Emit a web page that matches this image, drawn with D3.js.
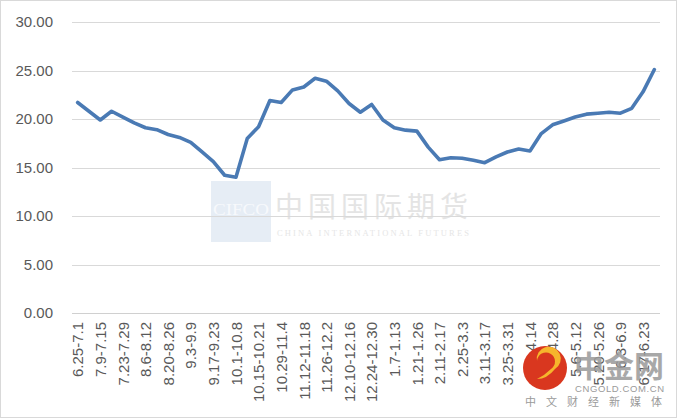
<!DOCTYPE html>
<html><head><meta charset="utf-8">
<script src="https://cdn.jsdelivr.net/npm/d3@7"></script>
<style>body{margin:0;background:#fff}svg{display:block}</style>
</head><body>
<svg id="c" width="680" height="419"></svg>
<script>
const categories = ["6.25-7.1","7.2-7.8","7.9-7.15","7.16-7.22","7.23-7.29","7.30-8.5","8.6-8.12","8.13-8.19","8.20-8.26","8.27-9.2","9.3-9.9","9.10-9.16","9.17-9.23","9.24-9.30","10.1-10.8","10.9-10.14","10.15-10.21","10.22-10.28","10.29-11.4","11.5-11.11","11.12-11.18","11.19-11.25","11.26-12.2","12.3-12.9","12.10-12.16","12.17-12.23","12.24-12.30","12.31-1.6","1.7-1.13","1.14-1.20","1.21-1.26","1.27-2.10","2.11-2.17","2.18-2.24","2.25-3.3","3.4-3.10","3.11-3.17","3.18-3.24","3.25-3.31","4.1-4.7","4.8-4.14","4.15-4.21","4.22-4.28","4.29-5.5","5.6-5.12","5.13-5.19","5.20-5.26","5.27-6.2","6.3-6.9","6.10-6.16","6.17-6.23","6.24-6.30"];
const values = [21.7,20.8,19.9,20.8,20.2,19.6,19.1,18.9,18.4,18.1,17.6,16.6,15.6,14.2,14.0,18.0,19.2,21.9,21.7,23.0,23.3,24.2,23.9,22.9,21.6,20.7,21.5,19.9,19.1,18.85,18.75,17.1,15.8,16.0,15.95,15.75,15.5,16.1,16.6,16.9,16.7,18.5,19.4,19.8,20.2,20.5,20.6,20.7,20.6,21.1,22.8,25.1];
const yTicks = [0,5,10,15,20,25,30];

const svg = d3.select("#c");
const font = "'Liberation Sans', Arial, sans-serif";
const L = 72, R = 660, T = 22, B = 313;

// chart border
svg.append("rect").attr("x",0.5).attr("y",0.5).attr("width",676).attr("height",417)
  .attr("fill","none").attr("stroke","#d9d9d9");

// watermark CIFCO
const wm = svg.append("g");
wm.append("rect").attr("x",211).attr("y",181).attr("width",60).attr("height",61).attr("fill","#e6edf5");
wm.append("text").attr("x",213).attr("y",215).attr("font-family","'Liberation Serif',serif")
  .attr("font-size",17).attr("textLength",56).attr("lengthAdjust","spacingAndGlyphs")
  .attr("fill","#f7f9fc").text("CIFCO");
wm.append("text").attr("x",275).attr("y",217).attr("font-family","'Noto Sans CJK SC',sans-serif")
  .attr("font-size",28).attr("letter-spacing",5).attr("fill","#e4e4e4").text("中国国际期货");
wm.append("text").attr("x",277).attr("y",236).attr("font-family","'Liberation Serif',serif")
  .attr("font-size",8.5).attr("textLength",192).attr("lengthAdjust","spacing")
  .attr("fill","#e6e6e6").text("CHINA INTERNATIONAL FUTURES");

const x = d3.scalePoint().domain(categories).range([L, R]).padding(0.5);
const y = d3.scaleLinear().domain([0, 30]).range([B, T]);

// grid
svg.append("g").selectAll("line").data(yTicks).join("line")
  .attr("x1",L).attr("x2",R).attr("y1",d=>Math.round(y(d))+0.5).attr("y2",d=>Math.round(y(d))+0.5)
  .attr("stroke",d=>d===0?"#d0d0d0":"#d9d9d9").attr("stroke-width",1);

// y labels
const yAxis = d3.axisLeft(y).tickValues(yTicks).tickFormat(d3.format(".2f")).tickSize(0).tickPadding(0);
const ya = svg.append("g").attr("transform",`translate(53,0)`).call(yAxis);
ya.select(".domain").remove();
ya.selectAll("text").attr("font-family",font).attr("font-size",15).attr("fill","#595959");

// x labels
const xAxis = d3.axisBottom(x).tickSize(0).tickPadding(0)
  .tickFormat((d,i)=> i%2===0 ? d : "");
const xa = svg.append("g").attr("transform",`translate(0,${B})`).call(xAxis);
xa.select(".domain").remove();
xa.selectAll("text").attr("font-family",font).attr("font-size",15).attr("fill","#595959")
  .attr("text-anchor","end").attr("transform","rotate(-90)").attr("x",-9).attr("y",0).attr("dy","0.35em");

// line
const line = d3.line().x((d,i)=>x(categories[i])).y(d=>y(d));
svg.append("path").datum(values).attr("d",line).attr("fill","none")
  .attr("stroke","#4a7ab4").attr("stroke-width",3.6).attr("stroke-linejoin","round").attr("stroke-linecap","round");

// cngold logo watermark
const lg = svg.append("g");
lg.append("circle").attr("cx",545).attr("cy",368).attr("r",22).attr("fill","#d9371f");
lg.append("path").attr("d","M537,361 a9,9 0 1,1 14,8 q-6,6 -14,10 q10,0 18,-10 a12,12 0 1,0 -18,-8z").attr("fill","#f6b62c");
lg.append("text").attr("x",574).attr("y",377).attr("font-family","'Noto Sans CJK SC',sans-serif").attr("font-weight","bold")
  .attr("font-size",30).attr("fill","#9a9a9a").attr("opacity",0.85).text("中金网");
lg.append("text").attr("x",575).attr("y",392).attr("font-family",font)
  .attr("font-size",9.5).attr("textLength",89).attr("lengthAdjust","spacing").attr("fill","#9a9a9a").text("CNGOLD.COM.CN");
lg.append("text").attr("x",525).attr("y",406).attr("font-family","'Noto Sans CJK SC',sans-serif")
  .attr("font-size",11).attr("letter-spacing",10).attr("fill","#9a9a9a").text("中文财经新媒体");
</script>
</body></html>
